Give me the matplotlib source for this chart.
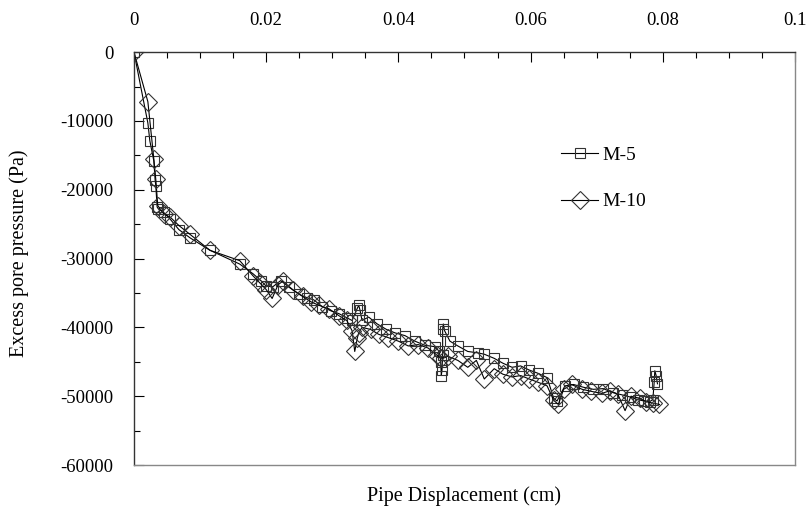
import matplotlib
matplotlib.use("Agg")
import matplotlib.pyplot as plt
from matplotlib.ticker import MultipleLocator

plt.rcParams['font.family'] = ['Liberation Serif', 'DejaVu Serif']
plt.rcParams['axes.unicode_minus'] = False

# M-5 (squares)
m5_x = [0, 0.0021, 0.0024, 0.0030, 0.0032, 0.0033, 0.0035, 0.0037, 0.0045, 0.0055,
        0.0068, 0.0085, 0.0115, 0.0160, 0.0180, 0.0192, 0.0200, 0.0210, 0.0222, 0.0235,
        0.0250, 0.0262, 0.0272, 0.0285, 0.0298, 0.0310, 0.0322, 0.0330, 0.0338, 0.0340,
        0.0342, 0.0345, 0.0355, 0.0368, 0.0382, 0.0395, 0.0410, 0.0425, 0.0440, 0.0455,
        0.0462, 0.0464, 0.0465, 0.0466, 0.0467, 0.0467, 0.0468, 0.0470, 0.0478, 0.0490,
        0.0505, 0.0520, 0.0530, 0.0545, 0.0558, 0.0572, 0.0585, 0.0598, 0.0612, 0.0625,
        0.0635, 0.0640, 0.0652, 0.0665, 0.0680, 0.0695, 0.0710, 0.0725, 0.0738, 0.0750,
        0.0762, 0.0772, 0.0780, 0.0785, 0.0787, 0.0788, 0.0790, 0.0792]
m5_y = [0, -10300, -12900, -15800, -18600, -19400, -22500, -22800, -23300, -24300,
        -25800, -27000, -28800, -30800, -32200, -33200, -34000, -34100, -33200, -34200,
        -35200, -35700, -36000, -37000, -37600, -38000, -38600, -39000, -37200, -36800,
        -37500, -39000, -38500, -39500, -40300, -40800, -41200, -42000, -42600, -42800,
        -43500, -45000, -47000, -46200, -44000, -40300, -39500, -40500, -42000, -42700,
        -43500, -43700, -43900, -44500, -45200, -45800, -45600, -46200, -46700, -47300,
        -50300, -50700, -48500, -48300, -48700, -49000, -48900, -49500, -49800, -50100,
        -50500, -50700, -50800, -50500, -48000, -46300, -47000, -48200]

# M-10 (diamonds)
m10_x = [0, 0.0021, 0.0030, 0.0033, 0.0036, 0.0045, 0.0055, 0.0068, 0.0085, 0.0115,
         0.0160, 0.0180, 0.0190, 0.0200, 0.0209, 0.0218, 0.0225, 0.0240, 0.0255, 0.0268,
         0.0280, 0.0295, 0.0310, 0.0322, 0.0330, 0.0334, 0.0338, 0.0340, 0.0345, 0.0358,
         0.0370, 0.0385, 0.0400, 0.0415, 0.0430, 0.0445, 0.0458, 0.0465, 0.0475, 0.0490,
         0.0505, 0.0518, 0.0530, 0.0545, 0.0558, 0.0572, 0.0585, 0.0598, 0.0612, 0.0625,
         0.0635, 0.0642, 0.0650, 0.0662, 0.0678, 0.0692, 0.0708, 0.0720, 0.0732, 0.0743,
         0.0752, 0.0765, 0.0775, 0.0785, 0.0795]
m10_y = [0, -7200, -15500, -18500, -22300, -23500, -24000, -25200, -26500, -28800,
         -30300, -32500, -33500, -34500, -35800, -33800, -33300, -34500, -35500, -36300,
         -36800, -37300, -38300, -39000, -40500, -43500, -41500, -40800, -40000, -40300,
         -41000, -41500, -42000, -42700, -42500, -43000, -44000, -44500, -44200, -44800,
         -45800, -44800, -47500, -46000, -46800, -47200, -47000, -47500, -48000, -48500,
         -50600, -51200, -49000, -48300, -49000, -49300, -49600, -49200, -49700, -52100,
         -50000, -50300, -50800, -51000, -51200]

xticks = [0, 0.02, 0.04, 0.06, 0.08, 0.1]
xtick_labels = ["0", "0.02", "0.04", "0.06", "0.08", "0.1"]

fig = plt.figure(figsize=(8.12, 5.11), dpi=100)
ax = fig.add_axes([0.165, 0.09, 0.814, 0.808])

ax.plot(m5_x, m5_y, color="black", lw=0.8, marker="s", ms=7.5, mfc="none",
        mec="#333333", mew=0.8, label="M-5")
ax.plot(m10_x, m10_y, color="black", lw=0.8, marker="D", ms=9.5, mfc="none",
        mec="#333333", mew=0.8, label="M-10")

ax.set_xlim(0, 0.1)
ax.set_ylim(-60000, 0)
ax.xaxis.set_minor_locator(MultipleLocator(0.005))
ax.yaxis.set_major_locator(MultipleLocator(10000))
ax.yaxis.set_minor_locator(MultipleLocator(5000))
ax.set_xticks(xticks)
ax.set_xticklabels(xtick_labels)

# x axis on top (at y = 0)
ax.xaxis.tick_top()
ax.tick_params(axis="x", which="both", direction="in", labelsize=13.5, pad=17)
ax.tick_params(axis="x", which="major", length=7, width=0.8)
ax.tick_params(axis="x", which="minor", length=4, width=0.8)
ax.tick_params(axis="y", which="both", direction="in", labelsize=13.5, pad=15)
ax.tick_params(axis="y", which="major", length=7, width=0.8)
ax.tick_params(axis="y", which="minor", length=4, width=0.8)

for side in ["top", "left"]:
    ax.spines[side].set_color("#333333")
    ax.spines[side].set_linewidth(1.0)
for side in ["bottom", "right"]:
    ax.spines[side].set_color("#888888")
    ax.spines[side].set_linewidth(1.0)

fig.text(0.024, 0.505, "Excess pore pressure (Pa)", fontsize=14.5, rotation=90,
         ha="center", va="center")
fig.text(0.572, 0.02, "Pipe Displacement (cm)", fontsize=14.5, ha="center")

ax.legend(loc="upper left", bbox_to_anchor=(0.62, 0.815), frameon=False,
          fontsize=14, labelspacing=1.5, handlelength=1.9, handletextpad=0.2)

fig.savefig("out.png", dpi=100)
